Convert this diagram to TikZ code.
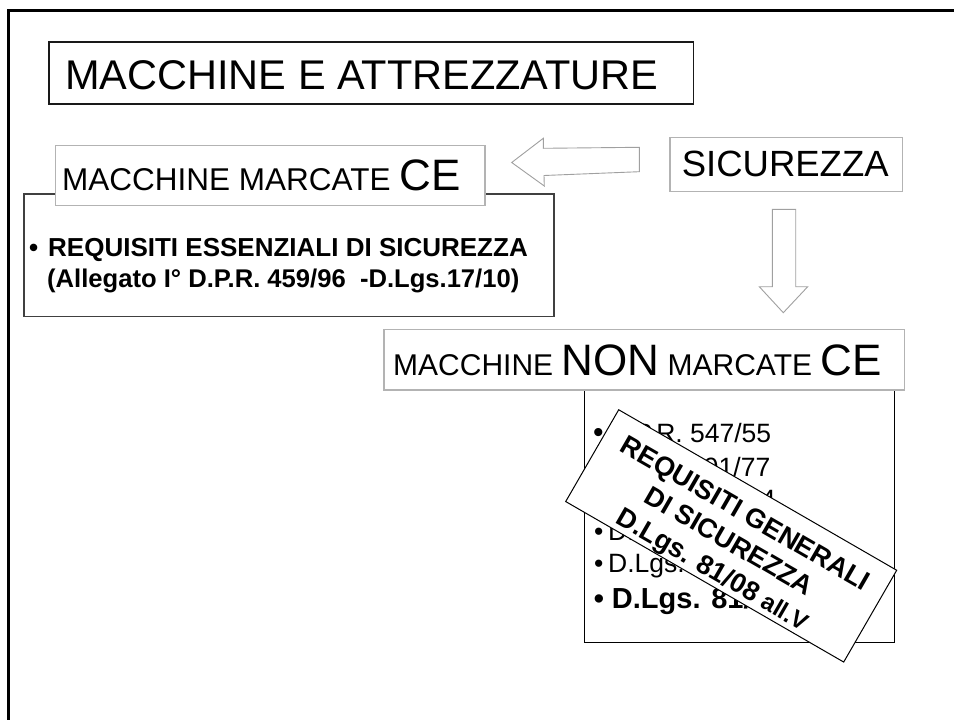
\documentclass[tikz,border=0pt]{standalone}
\usepackage{fontspec}
\setmainfont{Liberation Sans}
\usetikzlibrary{calc}
\definecolor{boxgray}{HTML}{B3B3B3}
\definecolor{arrgray}{HTML}{A0A0A0}
\begin{document}
\begin{tikzpicture}[x=1pt,y=-1pt,
  darkbox/.style={draw=black!90, line width=1.5pt, fill=white, inner sep=0pt},
  reqboxstyle/.style={draw=black!75, line width=1.5pt, fill=white, inner sep=0pt},
  graybox/.style={draw=boxgray, line width=1.2pt, fill=white, inner sep=0pt},
  listboxstyle/.style={draw=black, line width=1.2pt, fill=white, inner sep=0pt},
  blockarrow/.style={draw=arrgray, line width=0.9pt, fill=white, line join=miter},
  txt/.style={inner sep=0pt, anchor=base west},
  item/.style={txt, font=\fontsize{26.5}{31}\selectfont},
]
\useasboundingbox (0,0) rectangle (954,720);
\fill[white] (0,0) rectangle (954,720);
% outer frame
\draw[line width=2.6pt] (8.3,730) -- (8.3,10.7) -- (960,10.7);

% title
\node[darkbox, anchor=north west, minimum width=644.4pt, minimum height=62.3pt] (titlebox) at (48.3,41) {};
\node[txt, font=\fontsize{41.5}{48}\selectfont] (titletext) at (65,89.3) {MACCHINE E ATTREZZATURE};

% requisiti essenziali box
\node[reqboxstyle, anchor=north west, minimum width=529.7pt, minimum height=122.4pt] (reqbox) at (23.3,193.3) {};
\node[txt, font=\bfseries\fontsize{26}{31}\selectfont] (req1) at (28.8,256) {\makebox[19.2pt][l]{•}REQUISITI ESSENZIALI DI SICUREZZA};
\node[txt, font=\bfseries\fontsize{25.6}{31}\selectfont] (req2) at (47,287) {(Allegato I° D.P.R. 459/96~~-D.Lgs.17/10)};

% macchine marcate CE
\node[graybox, anchor=north west, minimum width=429.3pt, minimum height=60pt] (cebox) at (55,145) {};
\node[txt] (cetext) at (62,190.7) {\fontsize{31.5}{36}\selectfont MACCHINE MARCATE \fontsize{44}{50}\selectfont CE};

% sicurezza
\node[graybox, anchor=north west, minimum width=232.7pt, minimum height=54.3pt] (sicbox) at (669.3,136.7) {};
\node[txt, font=\fontsize{36.5}{42}\selectfont] (sictext) at (681.6,176.7) {SICUREZZA};

% left block arrow (sicurezza -> marcate CE)
\coordinate (la1) at (639.3,147.3);
\coordinate (la2) at (543.3,148.3);
\coordinate (la3) at (543.3,138.3);
\coordinate (latip) at (511.7,162.5);
\coordinate (la5) at (544.3,186);
\coordinate (la6) at (544,175.5);
\coordinate (la7) at (639.3,171.7);
\draw[blockarrow] (la1) -- (la2) -- (la3) -- (latip) -- (la5) -- (la6) -- (la7) -- cycle;

% down block arrow (sicurezza -> non marcate CE)
\coordinate (da1) at (772.3,209.3);
\coordinate (da2) at (795.7,209.3);
\coordinate (da3) at (795.7,286.7);
\coordinate (da4) at (807.7,286.7);
\coordinate (datip) at (783.3,312.7);
\coordinate (da6) at (759.3,286.7);
\coordinate (da7) at (772.3,286.7);
\draw[blockarrow] (da1) -- (da2) -- (da3) -- (da4) -- (datip) -- (da6) -- (da7) -- cycle;

% list box
\node[listboxstyle, anchor=north west, minimum width=310.5pt, minimum height=257pt] (listbox) at (583.5,385) {};

% macchine non marcate CE
\node[graybox, anchor=north west, minimum width=520.7pt, minimum height=60.8pt] (nonbox) at (383.3,328.5) {};
\node[txt] (nontext) at (393,375) {\fontsize{30}{36}\selectfont MACCHINE \fontsize{44}{50}\selectfont NON\fontsize{30}{36}\selectfont{} MARCATE \fontsize{44}{50}\selectfont CE};

% list items
\node[item] (it1) at (593,442) {\makebox[15pt][l]{\fontsize{30}{31}\selectfont•}D.P.R. 547/55};
\node[item] (it2) at (594,476) {\makebox[14pt][l]{•}Legge 791/77};
\node[item] (it3) at (594,508) {\makebox[14pt][l]{•}D.Lgs. 626/94};
\node[item] (it4) at (594,540) {\makebox[14pt][l]{•}D.Lgs. 359/99};
\node[item] (it5) at (594,572) {\makebox[14pt][l]{•}D.Lgs. 81/08};
\node[txt, font=\bfseries\fontsize{29}{34}\selectfont] (it6) at (593.6,608) {\makebox[18.2pt][l]{•}D.Lgs. 81/08};

% rotated stamp
\node[draw=black, line width=1pt, fill=white, inner sep=0pt, rotate=-30,
      minimum width=321pt, minimum height=106pt] (stamp) at (731.2,535.9) {};
\node[rotate=-30, align=center, inner sep=0pt,
      font=\bfseries\fontsize{27}{32.5}\selectfont] (stamptext) at (728,543.3)
  {REQUISITI GENERALI\\DI SICUREZZA\\D.Lgs. 81/08 {\fontsize{24}{32.5}\selectfont all.V}};
\end{tikzpicture}
\end{document}
